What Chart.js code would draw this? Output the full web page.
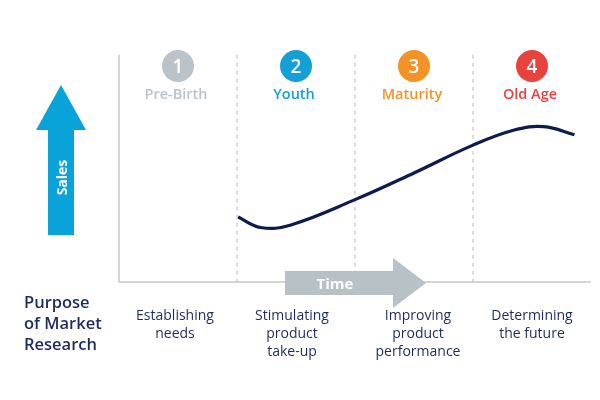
<!DOCTYPE html>
<html><head><meta charset="utf-8">
<script src="https://cdn.jsdelivr.net/npm/chart.js@4"></script>
<style>
body{margin:0;width:600px;height:400px;background:#fff;font-family:"Open Sans",sans-serif;overflow:hidden}
#wrap{position:relative;width:600px;height:400px}
.t{position:absolute;text-align:center;white-space:nowrap}
.num{position:absolute;width:32px;height:32px;border-radius:50%;color:#fff;font-size:19px;line-height:32px;text-align:center;font-weight:600}
.lab{font-size:14.5px;font-weight:600;width:110px}
.col{font-size:14px;color:#1e2b5e;line-height:18px;width:120px}
</style></head><body>
<div id="wrap"><canvas id="c" width="600" height="400"></canvas></div>
<script>
const stageNames=["Pre-Birth","Youth","Maturity","Old Age"];
const stageColors=["#b9c3c9","#14a0d6","#f39325","#e8423f"];
const purposes=[["Establishing","needs"],["Stimulating","product","take-up"],["Improving","product","performance"],["Determining","the future"]];
const curveX=[1.01,1.2,1.45,2.0,2.5,3.0,3.35,3.6,3.86];
const curveY=[28,23.5,24.5,35.5,47,59,65.5,67,63.5];
const wrap=document.getElementById('wrap');
const deco={id:'deco',beforeDatasetsDraw(ch){
 const c=ch.ctx,x=ch.scales.x,y=ch.scales.y;
 const bot=y.getPixelForValue(0),top=y.getPixelForValue(98);
 c.save();
 c.strokeStyle='#c8c8c8';c.lineWidth=1.5;
 c.beginPath();c.moveTo(x.getPixelForValue(0),top);c.lineTo(x.getPixelForValue(0),bot);c.lineTo(x.getPixelForValue(4),bot);c.stroke();
 c.setLineDash([4,4]);c.lineWidth=1;c.strokeStyle='#bbbbbb';
 for(let i=1;i<4;i++){const px=x.getPixelForValue(i);c.beginPath();c.moveTo(px,top);c.lineTo(px,bot);c.stroke();}
 c.setLineDash([]);
 c.fillStyle='#b7c1c6';c.beginPath();
 c.moveTo(285,271);c.lineTo(393,271);c.lineTo(393,258);c.lineTo(426,283);c.lineTo(393,308);c.lineTo(393,295);c.lineTo(285,295);c.closePath();c.fill();
 c.fillStyle='#0aa3d9';c.beginPath();
 c.moveTo(48,235);c.lineTo(48,130);c.lineTo(36,130);c.lineTo(61,85);c.lineTo(86,130);c.lineTo(74,130);c.lineTo(74,235);c.closePath();c.fill();
 c.restore();
}};
new Chart(document.getElementById('c'),{type:'line',
 data:{datasets:[{data:curveX.map((v,i)=>({x:v,y:curveY[i]})),borderColor:'#0f1a4f',borderWidth:3.2,pointRadius:0,tension:0.4,fill:false}]},
 options:{responsive:false,animation:false,layout:{padding:{left:119,right:9,top:50,bottom:118}},
  plugins:{legend:{display:false},tooltip:{enabled:false}},
  scales:{x:{type:'linear',min:0,max:4,display:false},y:{min:0,max:100,display:false}}},
 plugins:[deco]});
function add(html,cls,style){const d=document.createElement('div');d.className=cls;d.innerHTML=html;Object.assign(d.style,style);wrap.appendChild(d);}
const cx=[178,296,414,532];
const tx=[175,292,418,532];
stageNames.forEach((n,i)=>{
 add(String(i+1),'num',{left:(cx[i]-16)+'px',top:'50px',background:stageColors[i]});
 add(n,'t lab',{left:(cx[i]-55-2)+'px',top:'84px',color:stageColors[i]});
 add(purposes[i].join('<br>'),'t col',{left:(tx[i]-60)+'px',top:'306px'});
});
add('Sales','t',{left:'36px',top:'168px',width:'50px',color:'#fff',fontWeight:'700',fontSize:'14px',transform:'rotate(-90deg)'});
add('Time','t',{left:'310px',top:'273px',width:'50px',color:'#fff',fontWeight:'700',fontSize:'15px'});
add('Purpose<br>of Market<br>Research','t',{left:'24px',top:'291px',textAlign:'left',color:'#1e2b5e',fontWeight:'600',fontSize:'16.5px',lineHeight:'21px'});
</script></body></html>
